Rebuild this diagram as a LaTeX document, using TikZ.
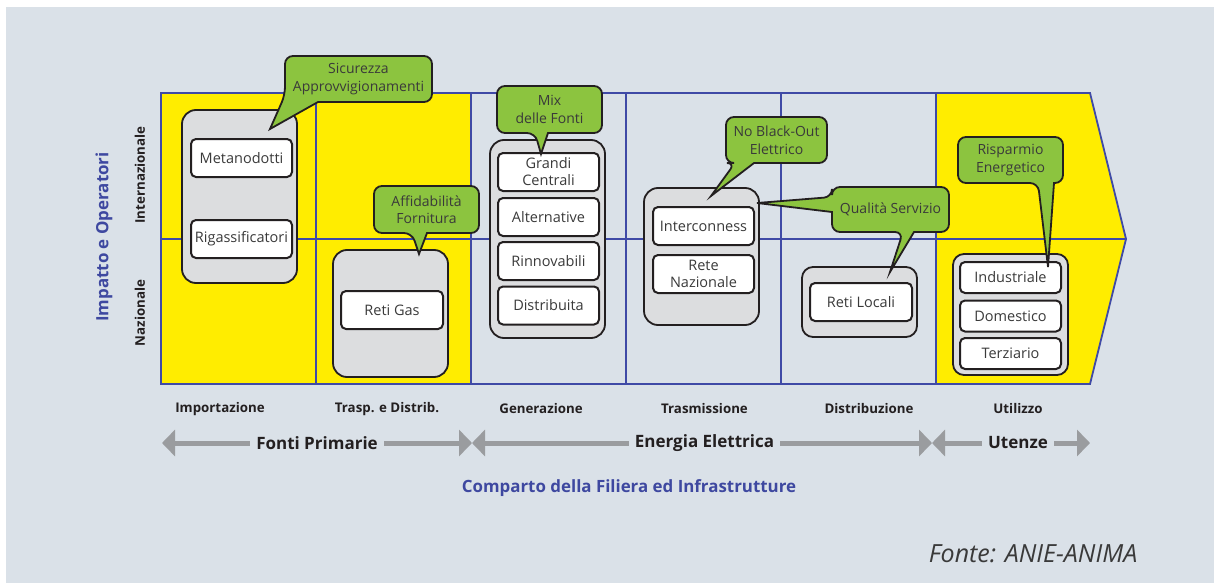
\documentclass[tikz,border=0pt]{standalone}
\usepackage{fontspec}
\setmainfont{Open Sans}
\usetikzlibrary{arrows.meta}
\definecolor{bg}{HTML}{DAE1E8}
\definecolor{yel}{HTML}{FFED00}
\definecolor{gridblue}{HTML}{3F4AA6}
\definecolor{cgreen}{HTML}{8CC43F}
\definecolor{gfill}{HTML}{DCDDDF}
\definecolor{dark}{HTML}{231F20}
\definecolor{txt}{HTML}{3A3A3A}
\definecolor{arrowgray}{HTML}{9A9C9F}
\definecolor{ltblue}{HTML}{3E48A0}
\begin{document}
\begin{tikzpicture}[x=1pt,y=-1pt,
  group/.style={draw=dark, line width=1.8pt, fill=gfill, rounded corners=14pt, inner sep=0pt, minimum width=115pt},
  item/.style={draw=dark, line width=2pt, fill=white, rounded corners=5pt, minimum width=101pt, minimum height=38pt, inner sep=0pt, align=center, font=\fontsize{14.5}{17}\selectfont, text=txt},
  smallitem/.style={item, minimum height=31pt},
  callout/.style={draw=dark, line width=1.8pt, fill=cgreen, rounded corners=8pt},
  ctext/.style={align=center, font=\fontsize{14}{17.5}\selectfont, text=txt, inner sep=0pt},
  collab/.style={font=\bfseries\fontsize{13.3}{15}\selectfont, text=dark, inner sep=0pt},
  biglab/.style={font=\bfseries\fontsize{17}{20}\selectfont, text=dark, fill=bg, inner ysep=2pt, inner xsep=6pt},
  garrow/.style={draw=arrowgray, line width=5pt, {Triangle[length=13pt,width=26pt]}-{Triangle[length=13pt,width=26pt]}},
  gridline/.style={draw=gridblue, line width=1.8pt}
]
\useasboundingbox (0,0) rectangle (1214,583);
\fill[white] (0,0) rectangle (1214,583);
\fill[bg] (6,7) rectangle (1214,583);

% yellow areas
\fill[yel] (161,93) rectangle (471,384);
\fill[yel] (936,93) -- (1090,93) -- (1126,239) -- (1090,384) -- (936,384) -- cycle;

% grid
\draw[gridline, line join=miter] (161,93) -- (1090,93) -- (1126,239) -- (1090,384) -- (161,384) -- cycle;
\draw[gridline] (161,239) -- (1126,239);
\foreach \gx in {316,471,626,781,936} \draw[gridline] (\gx,93) -- (\gx,384);

% groups
\node[group, minimum height=173pt] (g1) at (239.5,196.5) {};
\node[group, minimum height=127pt] (g2) at (390.5,313.5) {};
\node[group, minimum height=198pt] (g3) at (547.5,239) {};
\node[group, minimum height=137pt] (g4) at (701.5,256.5) {};
\node[group, minimum height=70pt, rounded corners=11pt] (g5) at (859.5,302) {};
\node[group, minimum height=121pt, rounded corners=11pt] (g6) at (1010.5,314.5) {};

% items
\node[item] (meta) at (241.5,158) {Metanodotti};
\node[item] (riga) at (241.5,239) {Rigassificatori};
\node[item, minimum width=102pt] (retigas) at (392,310) {Reti Gas};
\node[item] (grandi) at (548.5,172) {Grandi\\Centrali};
\node[item] (alt) at (548.5,217) {Alternative};
\node[item] (rinn) at (548.5,261) {Rinnovabili};
\node[item] (distr) at (548.5,305.5) {Distribuita};
\node[item] (inter) at (703.5,226) {Interconness};
\node[item] (retenaz) at (703.5,274) {Rete\\Nazionale};
\node[item, minimum width=102pt] (retiloc) at (861,302) {Reti Locali};
\node[smallitem] (ind) at (1010.5,277.5) {Industriale};
\node[smallitem] (dom) at (1010.5,316) {Domestico};
\node[smallitem] (terz) at (1010.5,353.5) {Terziario};

% callouts
\draw[callout] (285,95) [sharp corners] -- (270,129) -- (318,102) [rounded corners=8pt] -- (432,102) -- (432,56) -- (285,56) -- cycle;
\draw[callout] (412,233) [sharp corners] -- (419,254) -- (427,233) [rounded corners=8pt] -- (479,233) -- (479,186) -- (374,186) -- (374,233) -- cycle;
\draw[callout] (535,133) [sharp corners] -- (541,154) -- (548,133) [rounded corners=8pt] -- (602,133) -- (602,86) -- (497,86) -- (497,133) -- cycle;
\draw[callout] (735,163) [sharp corners] -- (711,196) -- (754,163) [rounded corners=8pt] -- (827,163) -- (827,117) -- (726,117) -- (726,163) -- cycle;
\draw[callout] (832,197) [sharp corners] -- (757,203) -- (832,212) [rounded corners=8pt] -- (832,232) -- (903,232) [sharp corners] -- (890,272) -- (914,232) [rounded corners=8pt] -- (949,232) -- (949,187) -- (832,187) -- cycle;
\draw[callout] (1038,183) [sharp corners] -- (1048,267) -- (1054,183) [rounded corners=8pt] -- (1063,183) -- (1063,137) -- (958,137) -- (958,183) -- cycle;

\node[ctext] (c1) at (358.5,79) {Sicurezza\\Approvvigionamenti};
\node[ctext] (c2) at (426.5,209.5) {Affidabilità\\Fornitura};
\node[ctext] (c3) at (549.5,109.5) {Mix\\delle Fonti};
\node[ctext] (c4) at (776.5,140) {No Black-Out\\Elettrico};
\node[ctext] (c5) at (890.5,209.5) {Qualità Servizio};
\node[ctext] (c6) at (1010.5,160) {Risparmio\\Energetico};

% axis labels
\node[rotate=90, font=\bfseries\fontsize{16.9}{20}\selectfont, text=ltblue] (imp) at (104,237) {Impatto e Operatori};
\node[rotate=90, collab] (intl) at (140,175) {Internazionale};
\node[rotate=90, collab] (naz) at (140,313) {Nazionale};

\node[collab] (l1) at (220,409) {Importazione};
\node[collab] (l2) at (387,409) {Trasp. e Distrib.};
\node[collab] (l3) at (541,409) {Generazione};
\node[collab] (l4) at (704.5,409) {Trasmissione};
\node[collab] (l5) at (869,409) {Distribuzione};
\node[collab] (l6) at (1018,409) {Utilizzo};

% arrows
\coordinate (a1) at (162,443);
\coordinate (a2) at (472,443);
\coordinate (a3) at (932,443);
\coordinate (a4) at (1090,443);
\draw[garrow] (a1) -- (a2);
\draw[garrow] (a2) -- (a3);
\draw[garrow] (a3) -- (a4);
\node[biglab] (fp) at (317,443) {Fonti Primarie};
\node[biglab] (ee) at (704.5,443) {Energia Elettrica};
\node[biglab] (ut) at (1018,443) {Utenze};

\node[font=\bfseries\fontsize{16.9}{20}\selectfont, text=ltblue] (comp) at (629,488) {Comparto della Filiera ed Infrastrutture};
\node[font=\itshape\fontsize{25}{30}\selectfont, text=txt] (fonte) at (1033,554) {Fonte: ANIE-ANIMA};
\end{tikzpicture}
\end{document}
